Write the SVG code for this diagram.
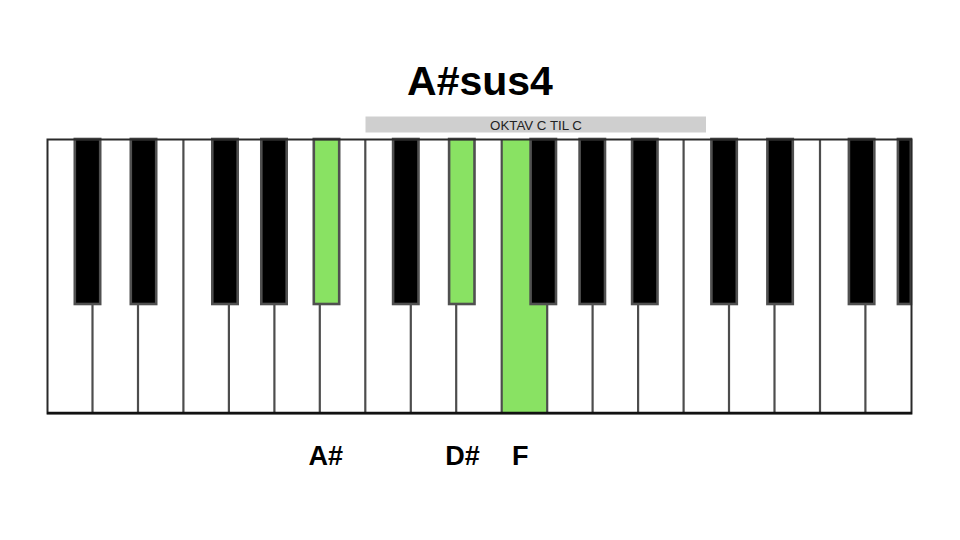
<svg xmlns="http://www.w3.org/2000/svg" width="960" height="540" viewBox="0 0 960 540">
<style>
.div{stroke:#4d4d4d;stroke-width:2.2}
.blk{fill:#000;stroke:#505050;stroke-width:2.6}
.hl{fill:#89e263}
.hlb{fill:#89e263;stroke:#505050;stroke-width:2.6}
.lab{font-family:"Liberation Sans",Arial,sans-serif;font-weight:bold;fill:#000}
</style>
<rect width="960" height="540" fill="#fff"/>
<g id="title"><text class="lab" x="480" y="94.5" font-size="41" text-anchor="middle">A#sus4</text></g>
<g id="octave-bar">
<rect x="365.5" y="116.5" width="340.5" height="16" fill="#cfcfcf"/>
<text x="536" y="130" font-family="Liberation Sans,Arial,sans-serif" font-size="13.3" fill="#222" text-anchor="middle">OKTAV C TIL C</text>
</g>
<g id="keyboard">
<rect x="47.5" y="139.5" width="864" height="274" fill="#fff"/>
<g id="key-F"><rect class="hl" x="501.7" y="139.5" width="45.5" height="274"/></g>
<g id="dividers">
<line class="div" x1="92.5" y1="139" x2="92.5" y2="413"/>
<line class="div" x1="138" y1="139" x2="138" y2="413"/>
<line class="div" x1="183.4" y1="139" x2="183.4" y2="413"/>
<line class="div" x1="228.9" y1="139" x2="228.9" y2="413"/>
<line class="div" x1="274.4" y1="139" x2="274.4" y2="413"/>
<line class="div" x1="319.8" y1="139" x2="319.8" y2="413"/>
<line class="div" x1="365.3" y1="139" x2="365.3" y2="413"/>
<line class="div" x1="410.8" y1="139" x2="410.8" y2="413"/>
<line class="div" x1="456.2" y1="139" x2="456.2" y2="413"/>
<line class="div" x1="501.7" y1="139" x2="501.7" y2="413"/>
<line class="div" x1="547.2" y1="139" x2="547.2" y2="413"/>
<line class="div" x1="592.6" y1="139" x2="592.6" y2="413"/>
<line class="div" x1="638.1" y1="139" x2="638.1" y2="413"/>
<line class="div" x1="683.6" y1="139" x2="683.6" y2="413"/>
<line class="div" x1="729" y1="139" x2="729" y2="413"/>
<line class="div" x1="774.5" y1="139" x2="774.5" y2="413"/>
<line class="div" x1="820" y1="139" x2="820" y2="413"/>
<line class="div" x1="865.4" y1="139" x2="865.4" y2="413"/>
</g>
<g id="black-keys">
<rect class="blk" x="74.8" y="139" width="25.4" height="165"/>
<rect class="blk" x="130.8" y="139" width="25.4" height="165"/>
<rect class="blk" x="212.3" y="139" width="25.4" height="165"/>
<rect class="blk" x="261.3" y="139" width="25.4" height="165"/>
<g id="key-Asharp"><rect class="hlb" x="313.8" y="139" width="25.4" height="165"/></g>
<rect class="blk" x="393.1" y="139" width="25.4" height="165"/>
<g id="key-Dsharp"><rect class="hlb" x="449.1" y="139" width="25.4" height="165"/></g>
<rect class="blk" x="530.6" y="139" width="25.4" height="165"/>
<rect class="blk" x="579.6" y="139" width="25.4" height="165"/>
<rect class="blk" x="632.1" y="139" width="25.4" height="165"/>
<rect class="blk" x="711.4" y="139" width="25.4" height="165"/>
<rect class="blk" x="767.4" y="139" width="25.4" height="165"/>
<rect class="blk" x="848.9" y="139" width="25.4" height="165"/>
<rect class="blk" x="897.9" y="139" width="13" height="165"/>
</g>
<rect x="47.5" y="139.5" width="864" height="274" fill="none" stroke="#2a2a2a" stroke-width="2"/>
<line x1="47" y1="413" x2="912" y2="413" stroke="#111" stroke-width="2.4"/>
</g>
<g id="labels">
<text class="lab" x="308.5" y="465" font-size="27">A#</text>
<text class="lab" x="445.3" y="465" font-size="27">D#</text>
<text class="lab" x="512" y="465" font-size="27">F</text>
</g>
</svg>
